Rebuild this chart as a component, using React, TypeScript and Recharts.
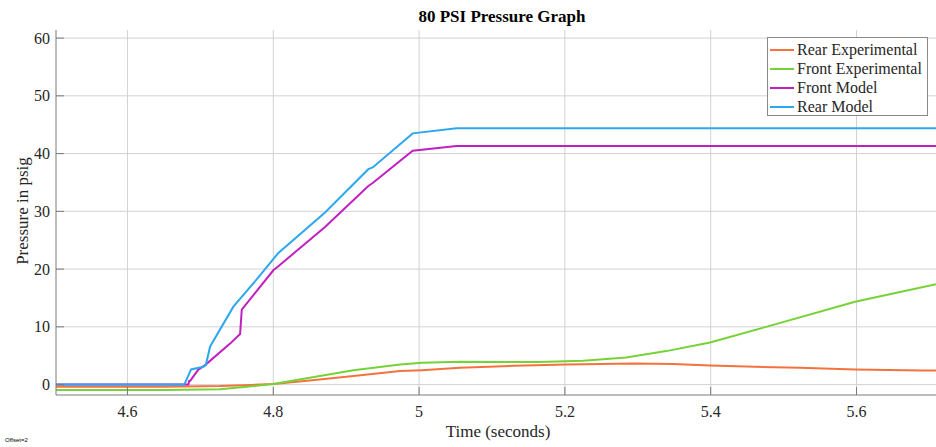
import React from 'react';
import { LineChart, Line, XAxis, YAxis, CartesianGrid, Legend } from 'recharts';

// values (t in seconds, p in psig)
const rearExperimental = [
  { t: 4.502, p: -0.38 }, { t: 4.65, p: -0.36 }, { t: 4.727, p: -0.26 }, { t: 4.76, p: -0.1 },
  { t: 4.8, p: 0.1 }, { t: 4.85, p: 0.7 }, { t: 4.91, p: 1.47 }, { t: 4.974, p: 2.34 },
  { t: 5.004, p: 2.5 }, { t: 5.056, p: 2.9 }, { t: 5.13, p: 3.25 }, { t: 5.202, p: 3.5 },
  { t: 5.294, p: 3.67 }, { t: 5.349, p: 3.55 }, { t: 5.399, p: 3.3 }, { t: 5.522, p: 2.9 },
  { t: 5.598, p: 2.6 }, { t: 5.69, p: 2.45 }, { t: 5.709, p: 2.43 },
];

const frontExperimental = [
  { t: 4.502, p: -0.95 }, { t: 4.65, p: -0.93 }, { t: 4.727, p: -0.8 }, { t: 4.76, p: -0.4 },
  { t: 4.8, p: 0.1 }, { t: 4.85, p: 1.2 }, { t: 4.91, p: 2.5 }, { t: 4.974, p: 3.5 },
  { t: 5.004, p: 3.8 }, { t: 5.056, p: 3.95 }, { t: 5.165, p: 3.9 }, { t: 5.225, p: 4.12 },
  { t: 5.284, p: 4.71 }, { t: 5.339, p: 5.8 }, { t: 5.399, p: 7.3 }, { t: 5.476, p: 10.0 },
  { t: 5.598, p: 14.35 }, { t: 5.709, p: 17.4 },
];

const frontModel = [
  { t: 4.502, p: 0 }, { t: 4.6836, p: 0 }, { t: 4.6846, p: 0.6 }, { t: 4.686, p: 0.66 },
  { t: 4.6973, p: 2.6 }, { t: 4.7065, p: 3.38 }, { t: 4.7408, p: 7.1 }, { t: 4.7545, p: 8.75 },
  { t: 4.7568, p: 13.0 }, { t: 4.8001, p: 19.8 }, { t: 4.807, p: 20.5 }, { t: 4.871, p: 27.3 },
  { t: 4.9304, p: 34.4 }, { t: 4.9364, p: 34.9 }, { t: 4.9912, p: 40.5 }, { t: 5.0515, p: 41.3 },
  { t: 5.709, p: 41.3 },
];

const rearModel = [
  { t: 4.502, p: 0 }, { t: 4.678, p: 0 }, { t: 4.6873, p: 2.63 }, { t: 4.7042, p: 3.08 },
  { t: 4.7075, p: 3.38 }, { t: 4.7134, p: 6.6 }, { t: 4.7453, p: 13.5 }, { t: 4.7764, p: 18.1 },
  { t: 4.807, p: 22.8 }, { t: 4.871, p: 29.8 }, { t: 4.9304, p: 37.3 }, { t: 4.9364, p: 37.6 },
  { t: 4.9912, p: 43.5 }, { t: 5.0515, p: 44.4 }, { t: 5.709, p: 44.4 },
];

const xTicks = [4.6, 4.8, 5, 5.2, 5.4, 5.6];
const yTicks = [0, 10, 20, 30, 40, 50, 60];

const series = [
  { name: 'Rear Experimental', data: rearExperimental, color: '#F4733C' },
  { name: 'Front Experimental', data: frontExperimental, color: '#76D236' },
  { name: 'Front Model', data: frontModel, color: '#C020C0' },
  { name: 'Rear Model', data: rearModel, color: '#2DA7EF' },
];

const serif = '"Liberation Serif", "Times New Roman", serif';
const axisColor = '#7a7a7a';

const BottomTick = (props: any) => {
  const { x, y, payload } = props;
  return (
    <g>
      <line x1={x} y1={y} x2={x} y2={y - 8} stroke={axisColor} />
      <text x={x} y={y + 22} textAnchor="middle" fontFamily={serif} fontSize={16} fill="#262626">
        {String(payload.value)}
      </text>
    </g>
  );
};

const TopTick = (props: any) => {
  const { x, y } = props;
  return <line x1={x} y1={y} x2={x} y2={y + 8} stroke={axisColor} />;
};

const LeftTick = (props: any) => {
  const { x, y, payload } = props;
  return (
    <g>
      <line x1={x} y1={y} x2={x + 8} y2={y} stroke={axisColor} />
      <text x={x - 6} y={y + 5.5} textAnchor="end" fontFamily={serif} fontSize={16} fill="#262626">
        {String(payload.value)}
      </text>
    </g>
  );
};

const LegendBox = () => (
  <div
    style={{
      border: '1px solid #8a8a8a',
      background: '#fff',
      padding: '2px 2px 1px 2px',
      fontFamily: serif,
      fontSize: 16,
      color: '#262626',
      boxSizing: 'border-box',
      width: 161,
      height: 79,
    }}
  >
    {series.map((s) => (
      <div key={s.name} style={{ display: 'flex', alignItems: 'center', height: 19, whiteSpace: 'nowrap' }}>
        <svg width={24} height={4} style={{ marginRight: 3 }}>
          <line x1={0} y1={2} x2={24} y2={2} stroke={s.color} strokeWidth={2} />
        </svg>
        <span>{s.name}</span>
      </div>
    ))}
  </div>
);

export default function App() {
  return (
    <div style={{ position: 'absolute', left: 0, top: 0, width: 936, height: 447, background: '#fff' }}>
      <LineChart width={936} height={447} margin={{ top: 30, right: 0, left: 0, bottom: 0 }}>
        <CartesianGrid stroke="#d2d2d2" horizontalValues={yTicks} verticalValues={xTicks} />
        <XAxis
          type="number"
          dataKey="t"
          domain={[4.502, 5.709]}
          ticks={xTicks}
          allowDataOverflow
          height={52}
          tickSize={0}
          tickMargin={0}
          tickLine={false}
          tick={<BottomTick />}
          axisLine={{ stroke: axisColor }}
        />
        <XAxis
          xAxisId="top"
          orientation="top"
          type="number"
          dataKey="t"
          domain={[4.502, 5.709]}
          ticks={xTicks}
          allowDataOverflow
          height={0}
          tickSize={0}
          tickMargin={0}
          tickLine={false}
          tick={<TopTick />}
          axisLine={{ stroke: axisColor }}
        />
        <YAxis
          type="number"
          domain={[-1.8, 61.4]}
          ticks={yTicks}
          allowDataOverflow
          width={56}
          tickSize={0}
          tickMargin={0}
          tickLine={false}
          tick={<LeftTick />}
          axisLine={{ stroke: axisColor }}
        />
        <Legend
          layout="horizontal"
          verticalAlign="middle"
          align="center"
          content={<LegendBox />}
          wrapperStyle={{ left: 767, top: 37, width: 161, height: 79 }}
        />
        {series.map((s) => (
          <Line
            key={s.name}
            data={s.data}
            dataKey="p"
            name={s.name}
            type="linear"
            stroke={s.color}
            strokeWidth={2}
            dot={false}
            activeDot={false}
            isAnimationActive={false}
          />
        ))}
      </LineChart>
      <div
        style={{
          position: 'absolute', left: 502, top: 8, transform: 'translateX(-50%)',
          fontFamily: serif, fontSize: 17, fontWeight: 'bold', lineHeight: '17px', whiteSpace: 'nowrap', color: '#000',
        }}
      >
        80 PSI Pressure Graph
      </div>
      <div
        style={{
          position: 'absolute', left: 22, top: 211, transform: 'translate(-50%, -50%) rotate(-90deg)',
          fontFamily: serif, fontSize: 17, lineHeight: '17px', whiteSpace: 'nowrap', color: '#262626',
        }}
      >
        Pressure in psig
      </div>
      <div
        style={{
          position: 'absolute', left: 498, top: 431, transform: 'translate(-50%, -50%)',
          fontFamily: serif, fontSize: 17, lineHeight: '17px', whiteSpace: 'nowrap', color: '#262626',
        }}
      >
        Time (seconds)
      </div>
      <div
        style={{
          position: 'absolute', left: 5, top: 437, fontFamily: '"Liberation Sans", Arial, sans-serif',
          fontSize: 6, lineHeight: '6px', whiteSpace: 'nowrap', color: '#000',
        }}
      >
        Offset=2
      </div>
    </div>
  );
}
